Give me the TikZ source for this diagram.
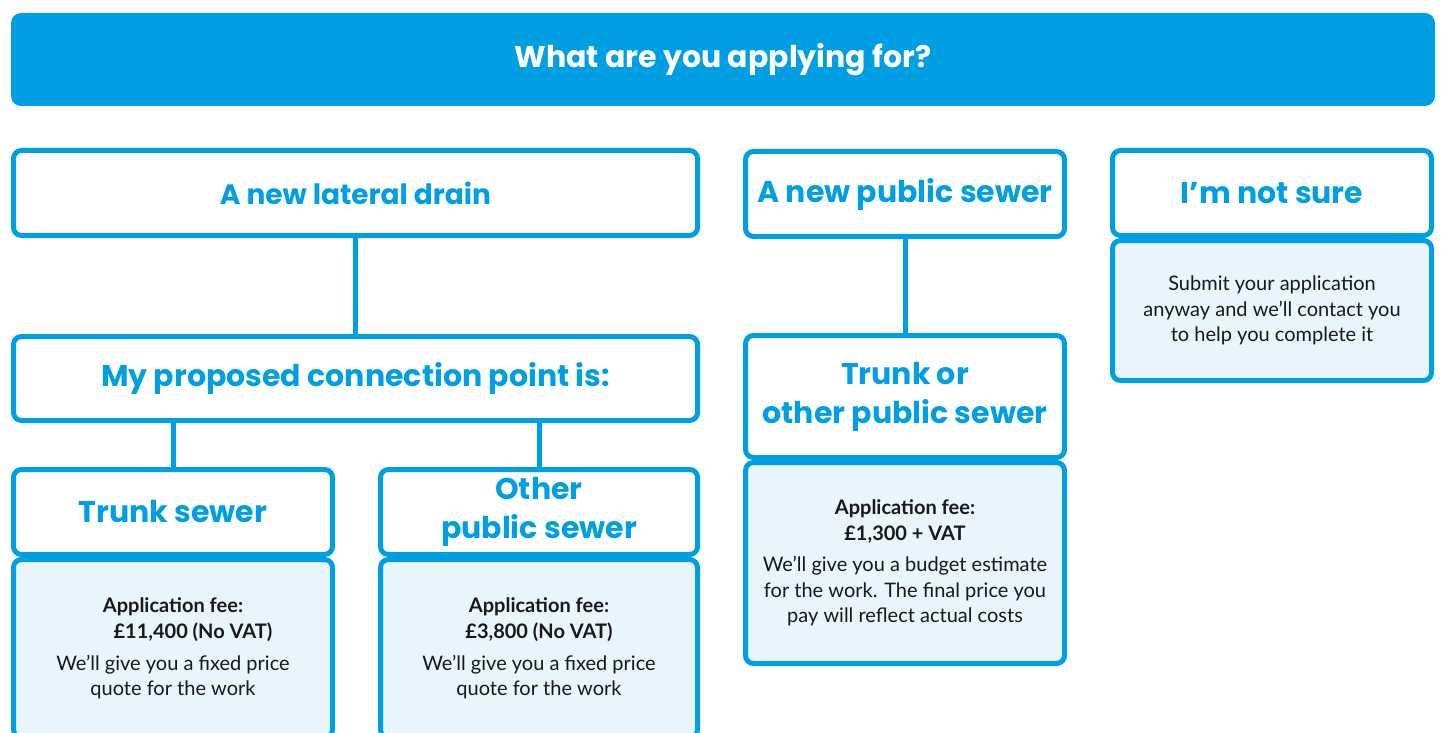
\documentclass[tikz,border=0pt]{standalone}
\usepackage{fontspec}
\setmainfont{Lato}
\newfontfamily\headfont{Poppins}
\usetikzlibrary{positioning}
\definecolor{swblue}{RGB}{0,159,227}
\definecolor{swpale}{RGB}{232,245,253}
\tikzset{
  headbox/.style={draw=swblue, line width=2.5pt, rounded corners=4pt, fill=white,
    align=center, inner sep=0pt, text=swblue,
    font=\headfont\bfseries\fontsize{15}{19.5}\selectfont},
  infobox/.style={draw=swblue, line width=2.5pt, rounded corners=4pt, fill=swpale,
    align=center, inner sep=0pt, text=black!90,
    font=\fontsize{10}{12.8}\selectfont},
  link/.style={swblue, line width=2.5pt}
}
\begin{document}
\begin{tikzpicture}[x=0.5pt,y=-0.5pt]
		\useasboundingbox (0,0) rectangle (1441,733);
		\clip (0,0) rectangle (1441,733);
		\node[fill=swblue, rounded corners=5pt, minimum width=712pt, minimum height=46.5pt,
		  text=white, font=\headfont\bfseries\fontsize{15}{18}\selectfont] (title) at (723,59.5) {What are you applying for?};
		% lateral drain column
		\node[headbox, minimum width=342pt, minimum height=42.5pt, font=\headfont\bfseries\fontsize{14}{19.5}\selectfont] (lateral) at (355.5,193) {A new lateral drain};
		\node[headbox, minimum width=342pt, minimum height=42pt] (conn) at (355.5,378.5) {My proposed connection point is:};
		\node[headbox, minimum width=159.5pt, minimum height=42.5pt] (trunk) at (173,512) {Trunk sewer};
		\node[infobox, minimum width=159.5pt, minimum height=89pt, below=0pt of trunk] (trunkfee)
		  {\textbf{Application fee:}\\\hspace{20pt}\textbf{£11,400 (No VAT)}\\[3pt]We’ll give you a fixed price\\quote for the work};
		\node[headbox, minimum width=158.5pt, minimum height=42.5pt] (other) at (539,512) {Other\\public sewer};
		\node[infobox, minimum width=158.5pt, minimum height=89pt, below=0pt of other] (otherfee)
		  {\textbf{Application fee:}\\\textbf{£3,800 (No VAT)}\\[3pt]We’ll give you a fixed price\\quote for the work};
		% public sewer column
		\node[headbox, minimum width=159.5pt, minimum height=42.5pt] (public) at (905,194) {A new public sewer};
		\node[headbox, minimum width=159.5pt, minimum height=61pt] (trunkor) at (905,396.5) {Trunk or\\other public sewer};
		\node[infobox, minimum width=159.5pt, minimum height=100.5pt, below=0pt of trunkor] (trunkorfee)
		  {\textbf{Application fee:}\\\textbf{£1,300 + VAT}\\[3pt]We’ll give you a budget estimate\\for the work. The final price you\\pay will reflect actual costs};
		% not sure column
		\node[headbox, minimum width=159.5pt, minimum height=42.5pt] (unsure) at (1272,193) {I’m not sure};
		\node[infobox, minimum width=159.5pt, minimum height=70pt, below=0pt of unsure] (unsureinfo)
		  {Submit your application\\anyway and we’ll contact you\\to help you complete it};
		\draw[link] (lateral) -- (conn);
		\draw[link] (trunk.north) -- (trunk.north |- conn.south);
		\draw[link] (other.north) -- (other.north |- conn.south);
		\draw[link] (public) -- (trunkor);
\end{tikzpicture}
\end{document}
